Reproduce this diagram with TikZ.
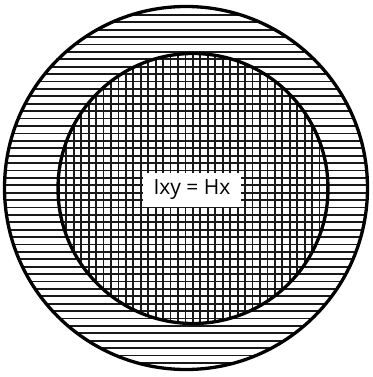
\documentclass[tikz,border=0pt]{standalone}
\usepackage{fontspec}
\setmainfont{Open Sans}

\begin{document}
\begin{tikzpicture}[x=1pt, y=-1pt,
    rim/.style={line width=3.3pt},
    hatch/.style={line width=1.8pt, black!90},
    tag/.style={fill=white, inner sep=0pt, minimum width=98pt, minimum height=34pt, font=\fontsize{21}{25}\selectfont}]
    \useasboundingbox (0,0) rectangle (372,377);
    % Outer disc: horizontal lines
    \begin{scope}
        \clip (186,188) circle (181.5pt);
        \foreach \k in {0,...,48}
            \draw[hatch] (0,{15+7.4*\k}) -- (372,{15+7.4*\k});
    \end{scope}
    % Inner disc: vertical lines on top
    \begin{scope}
        \clip (193,188.5) circle (135pt);
        \foreach \k in {-10,...,30}
            \draw[hatch] ({133.3+7.45*\k},0) -- ({133.3+7.45*\k},377);
    \end{scope}
    % Rims
    \draw[rim] (186,188) circle (181.5pt);
    \draw[rim] (193,188.5) circle (135pt);
    % Label
    \node[tag] (lbl) at (192,190) {Ixy = Hx};
\end{tikzpicture}
\end{document}
